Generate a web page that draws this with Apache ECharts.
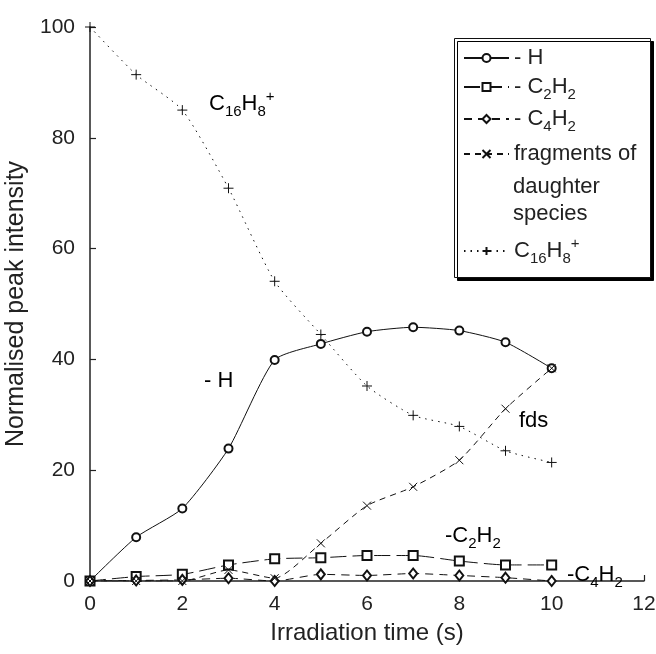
<!DOCTYPE html>
<html>
<head>
<meta charset="utf-8">
<script src="https://cdn.jsdelivr.net/npm/echarts@6/dist/echarts.min.js"></script>
<style>html,body{margin:0;padding:0;background:#fff;}#chart{width:656px;height:654px;}</style>
</head>
<body>
<div id="chart"></div>
<script>
const timeValues = [0, 1, 2, 3, 4, 5, 6, 7, 8, 9, 10];
const lossH = [0, 7.9, 13.1, 23.9, 39.9, 42.8, 45.0, 45.8, 45.2, 43.1, 38.4];
const lossC2H2 = [0, 0.8, 1.2, 2.9, 4.0, 4.2, 4.6, 4.6, 3.6, 2.9, 2.9];
const lossC4H2 = [0, 0.1, 0.2, 0.5, 0, 1.2, 1.0, 1.35, 1.0, 0.6, 0];
const fragments = [0, 0, 0, 2.0, 0.5, 6.8, 13.6, 17.0, 21.8, 31.1, 38.4];
const parentIon = [100, 91.4, 85.0, 70.9, 54.1, 44.5, 35.2, 29.9, 27.9, 23.5, 21.4];
const xTicks = [0, 2, 4, 6, 8, 10, 12];
const yTicks = [0, 20, 40, 60, 80, 100];

const FONT = '"Liberation Sans", Arial, sans-serif';
const TXT = '#222';
const rich = {
  n: {fontSize: 22, fontFamily: FONT, color: TXT},
  sub: {fontSize: 15, fontFamily: FONT, color: TXT, padding: [15, 0, 0, 0]},
  sup: {fontSize: 15, fontFamily: FONT, color: TXT, padding: [0, 0, 15, 0]}
};
const pair = v => timeValues.map((t, i) => [t, v[i]]);
const crossPath = 'path://M0,0L10,10M10,0L0,10';
const plusPath = 'path://M5,0L5,10M0,5L10,5';

const names = ['- H', '- C2H2', '- C4H2', 'fragments', 'C16H8+'];
const labels = {
  '- H': '{n|- H}',
  '- C2H2': '{n|- C}{sub|2}{n|H}{sub|2}',
  '- C4H2': '{n|- C}{sub|4}{n|H}{sub|2}',
  'fragments': '{n|fragments of}',
  'C16H8+': '{n|C}{sub|16}{n|H}{sub|8}{sup|+}'
};

function mkSeries(name, data, symbol, size, dash, smooth) {
  return {
    name: name, type: 'line', data: pair(data), symbol: symbol, symbolSize: size,
    smooth: smooth, smoothMonotone: 'none',
    lineStyle: {color: '#111', width: 1, type: dash},
    itemStyle: {color: '#111', borderColor: '#111', borderWidth: 1},
    emphasis: {disabled: true}, z: 3
  };
}

const legendTops = [47, 76, 108, 143, 236];
const legends = names.map((n, i) => ({
  data: [n], orient: 'vertical', left: 463, top: legendTops[i], padding: 0,
  itemWidth: 45, itemHeight: 10, itemGap: 0, selectedMode: false,
  formatter: name => labels[name],
  textStyle: {rich: rich, fontSize: 22, fontFamily: FONT, color: TXT}
}));

const chart = echarts.init(document.getElementById('chart'));
chart.setOption({
  animation: false,
  backgroundColor: '#fff',
  grid: {left: 90, right: 12, top: 27, bottom: 73, containLabel: false, outerBoundsMode: 'none'},
  xAxis: {
    type: 'value', min: 0, max: 12, interval: 2,
    name: 'Irradiation time (s)', nameLocation: 'middle', nameGap: 40,
    nameTextStyle: {fontSize: 24, fontFamily: FONT, color: TXT},
    axisLine: {lineStyle: {color: '#222', width: 1.5}},
    axisTick: {inside: true, length: 6, lineStyle: {color: '#222', width: 1.2}},
    axisLabel: {fontSize: 21, fontFamily: FONT, color: TXT, margin: 13},
    splitLine: {show: false}
  },
  yAxis: {
    type: 'value', min: 0, max: 100, interval: 20,
    name: 'Normalised peak intensity', nameLocation: 'middle', nameGap: 53,
    nameTextStyle: {fontSize: 25, fontFamily: FONT, color: TXT},
    axisLine: {lineStyle: {color: '#222', width: 1.5}},
    axisTick: {inside: true, length: 6, lineStyle: {color: '#222', width: 1.2}},
    axisLabel: {fontSize: 21, fontFamily: FONT, color: TXT, margin: 15},
    splitLine: {show: false}
  },
  legend: legends,
  graphic: [
    {type: 'rect', left: 454, top: 38, z: 0,
     shape: {width: 196, height: 239},
     style: {fill: '#fff', stroke: '#111', lineWidth: 1, shadowColor: '#000', shadowOffsetX: 3, shadowOffsetY: 3, shadowBlur: 0}},
    {type: 'text', left: 513, top: 173, z: 10,
     style: {text: 'daughter\nspecies', font: '22px ' + FONT, fill: TXT, lineHeight: 27}},
    {type: 'text', x: 209, y: 104, z: 10,
     style: {text: '{n|C}{sub|16}{n|H}{sub|8}{sup|+}', rich: rich, verticalAlign: 'middle'}},
    {type: 'text', x: 204, y: 381, z: 10,
     style: {text: '{n|- H}', rich: rich, verticalAlign: 'middle'}},
    {type: 'text', x: 519, y: 421, z: 10,
     style: {text: '{n|fds}', rich: rich, verticalAlign: 'middle'}},
    {type: 'text', x: 445, y: 536, z: 10,
     style: {text: '{n|-C}{sub|2}{n|H}{sub|2}', rich: rich, verticalAlign: 'middle'}},
    {type: 'text', x: 567, y: 575, z: 10,
     style: {text: '{n|-C}{sub|4}{n|H}{sub|2}', rich: rich, verticalAlign: 'middle'}}
  ],
  series: [
    mkSeries('- H', lossH, 'emptyCircle', 8, 'solid', 0.2),
    mkSeries('- C2H2', lossC2H2, 'emptyRect', 9, [16, 6], 0.2),
    mkSeries('- C4H2', lossC4H2, 'emptyDiamond', [8, 10], [8, 6], 0.2),
    mkSeries('fragments', fragments, crossPath, 8, [6, 5], 0.2),
    mkSeries('C16H8+', parentIon, plusPath, 10, [1.5, 5], 0.2)
  ]
});
</script>
</body>
</html>
